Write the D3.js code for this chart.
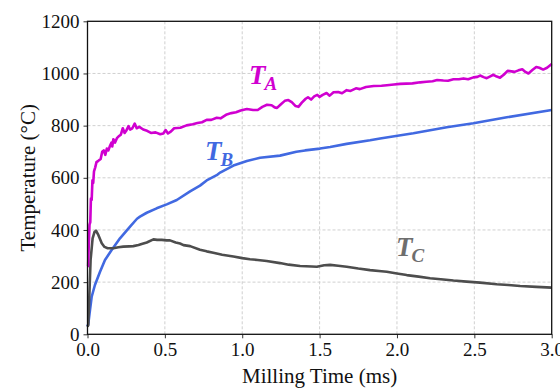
<!DOCTYPE html>
<html>
<head>
<meta charset="utf-8">
<script src="https://cdn.jsdelivr.net/npm/d3@7"></script>
<style>
  body { margin: 0; background: #fff; }
  svg { display: block; font-family: "Liberation Serif", "Times New Roman", serif; }
</style>
</head>
<body>
<div id="chart"></div>
<script>
// milling time (ms) and temperature (C) for each curve
var timeA = [0,0.004,0.008,0.013,0.018,0.022,0.027,0.032,0.037,0.042,0.05,0.058,0.07,0.085,0.095,0.105,0.115,0.125,0.135,0.145,0.155,0.16,0.167,0.178,0.19,0.2,0.215,0.228,0.24,0.25,0.265,0.275,0.29,0.305,0.318,0.335,0.36,0.385,0.41,0.44,0.47,0.49,0.505,0.52,0.54,0.56,0.6,0.64,0.68,0.71,0.74,0.77,0.8,0.835,0.86,0.9,0.93,0.96,0.99,1.03,1.07,1.1,1.13,1.16,1.19,1.21,1.225,1.25,1.275,1.298,1.32,1.345,1.363,1.385,1.41,1.425,1.445,1.465,1.485,1.5,1.52,1.545,1.565,1.59,1.62,1.645,1.675,1.7,1.735,1.76,1.8,1.85,1.9,1.935,1.98,2.02,2.06,2.1,2.15,2.19,2.23,2.26,2.3,2.33,2.365,2.4,2.43,2.46,2.494,2.52,2.537,2.56,2.58,2.6,2.623,2.645,2.666,2.69,2.715,2.74,2.76,2.785,2.81,2.83,2.85,2.875,2.9,2.92,2.945,2.97,3.0];
var tempA = [260,262,340,420,430,520,515,590,580,625,640,660,665,672,700,705,688,712,705,722,735,720,748,735,752,758,765,790,772,780,798,785,790,808,790,795,785,780,772,774,767,770,783,770,778,790,792,801,805,810,813,822,822,830,828,843,848,851,858,864,860,860,872,880,878,870,868,882,895,898,890,875,872,888,903,909,900,912,918,910,918,925,915,928,929,924,936,933,943,940,948,952,953,955,958,960,961,962,966,968,970,975,973,972,978,978,981,978,985,987,992,986,982,988,995,988,984,995,1010,1008,1006,1012,1016,1006,1000,1013,1025,1022,1015,1022,1036];

var timeB = [0,0.005,0.016,0.027,0.048,0.081,0.113,0.156,0.21,0.275,0.32,0.339,0.383,0.447,0.512,0.577,0.663,0.727,0.77,0.835,0.857,0.943,1.03,1.115,1.244,1.35,1.406,1.503,1.568,1.675,1.826,1.891,2.106,2.322,2.494,2.71,3.0];
var tempB = [30,40,93,144,189,240,285,323,368,413,443,451,466,483,498,515,548,570,590,610,620,647,664,677,685,700,705,712,718,730,744,751,771,794,809,832,860];

var timeC = [0,0.005,0.012,0.02,0.033,0.045,0.055,0.07,0.092,0.11,0.13,0.167,0.2,0.231,0.27,0.296,0.33,0.35,0.383,0.426,0.45,0.48,0.512,0.533,0.57,0.598,0.62,0.663,0.727,0.77,0.813,0.87,0.943,1.0,1.05,1.1,1.158,1.244,1.3,1.374,1.45,1.482,1.53,1.568,1.62,1.675,1.75,1.826,1.9,1.934,2.0,2.063,2.14,2.214,2.3,2.365,2.45,2.537,2.645,2.72,2.796,2.9,3.0];
var tempC = [29,35,150,285,368,392,397,381,349,335,330,330,334,336,337,338,342,346,352,364,362,362,360,360,352,348,342,338,324,318,313,305,298,292,288,285,281,273,267,262,260,259,265,266,263,259,252,246,242,240,233,227,221,215,210,206,202,198,192,189,185,182,179];

var xTicks = [0, 0.5, 1.0, 1.5, 2.0, 2.5, 3.0];
var yTicks = [0, 200, 400, 600, 800, 1000, 1200];

var W = 560, H = 390;
var plotL = 87.5, plotR = 551.7, plotT = 21.3, plotB = 334.3;

var svg = d3.select("#chart").append("svg")
    .attr("width", W)
    .attr("height", H);

var x = d3.scaleLinear().domain([0, 3]).range([plotL, plotR]);
var y = d3.scaleLinear().domain([0, 1200]).range([plotB, plotT]);

// grid
svg.append("g").selectAll("line")
    .data(xTicks.slice(1, -1))
    .enter().append("line")
    .attr("x1", d => x(d)).attr("x2", d => x(d))
    .attr("y1", plotT).attr("y2", plotB)
    .attr("stroke", "#c4c4c4").attr("stroke-width", 0.8)
    .attr("stroke-dasharray", "3,2");

svg.append("g").selectAll("line")
    .data(yTicks.slice(1, -1))
    .enter().append("line")
    .attr("x1", plotL).attr("x2", plotR)
    .attr("y1", d => y(d)).attr("y2", d => y(d))
    .attr("stroke", "#c4c4c4").attr("stroke-width", 0.8)
    .attr("stroke-dasharray", "3,2");

// curves
var line = d3.line()
    .x(d => x(d[0]))
    .y(d => y(d[1]));

function drawCurve(times, temps, color) {
    var pts = times.map((t, i) => [t, temps[i]]);
    svg.append("path")
        .datum(pts)
        .attr("d", line)
        .attr("fill", "none")
        .attr("stroke", color)
        .attr("stroke-width", 2.6)
        .attr("stroke-linejoin", "round");
}

drawCurve(timeB, tempB, "#4169e1");
drawCurve(timeC, tempC, "#4d4d4d");
drawCurve(timeA, tempA, "#d000d0");

// axes
var xAxis = d3.axisBottom(x).tickValues(xTicks).tickFormat(d3.format(".1f")).tickSize(4).tickPadding(4);
var yAxis = d3.axisLeft(y).tickValues(yTicks).tickFormat(d3.format("d")).tickSize(4).tickPadding(4);

var gx = svg.append("g").attr("transform", "translate(0," + plotB + ")").call(xAxis);
var gy = svg.append("g").attr("transform", "translate(" + plotL + ",0)").call(yAxis);

[gx, gy].forEach(function(g) {
    g.select(".domain").remove();
    g.selectAll("line").attr("stroke", "#333");
    g.selectAll("text")
        .attr("fill", "#111")
        .style("font-size", "19px")
        .style("font-family", "'Liberation Serif', serif");
});

// frame
svg.append("rect")
    .attr("x", plotL).attr("y", plotT)
    .attr("width", plotR - plotL).attr("height", plotB - plotT)
    .attr("fill", "none")
    .attr("stroke", "#111")
    .attr("stroke-width", 1.3);

// axis titles
svg.append("text")
    .attr("x", (plotL + plotR) / 2)
    .attr("y", 383)
    .attr("text-anchor", "middle")
    .style("font-size", "21px")
    .attr("fill", "#111")
    .text("Milling Time (ms)");

svg.append("text")
    .attr("transform", "translate(35," + (plotT + plotB) / 2 + ") rotate(-90)")
    .attr("text-anchor", "middle")
    .style("font-size", "21px")
    .attr("fill", "#111")
    .text("Temperature (°C)");

// curve labels
var labels = [
    {name: "T", sub: "A", x: 249, y: 84, color: "#d000d0"},
    {name: "T", sub: "B", x: 205, y: 160, color: "#4169e1"},
    {name: "T", sub: "C", x: 396, y: 256, color: "#6e6e6e"}
];

labels.forEach(function(l) {
    var t = svg.append("text")
        .attr("x", l.x).attr("y", l.y)
        .attr("fill", l.color)
        .style("font-weight", "bold")
        .style("font-style", "italic")
        .style("font-size", "27px");
    t.append("tspan").text(l.name);
    t.append("tspan").attr("dy", 6).attr("dx", -1).style("font-size", "19px").text(l.sub);
});
</script>
</body>
</html>
